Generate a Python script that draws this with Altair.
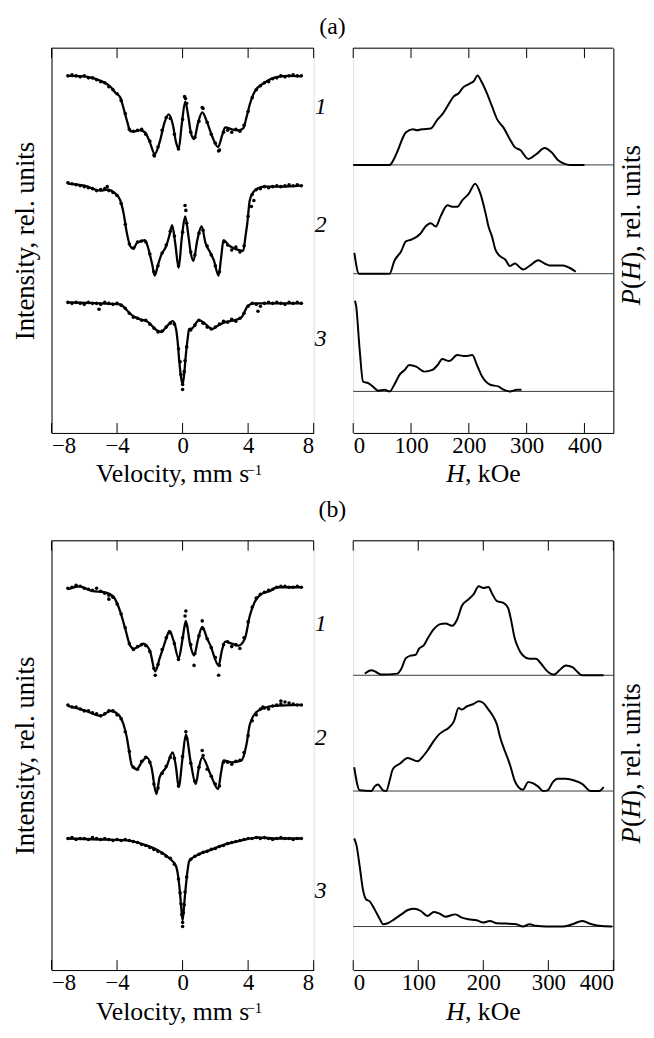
import altair as alt
import pandas as pd

SERIF = "Liberation Serif"

# ---------------- Mossbauer spectra (velocity, mm/s ; intensity, rel. units) -------------
VEL = [round(-7 + 0.25 * i, 2) for i in range(58)]  # channel velocities of the dots

A1_FIT = [(-7.0, 364), (-6.0, 363.5), (-5.8, 363), (-5.0, 359), (-4.4, 353), (-4.1, 347), (-3.8, 342),
          (-3.65, 334), (-3.5, 325), (-3.35, 316), (-3.2, 308), (-2.9, 308), (-2.6, 309), (-2.3, 307),
          (-2.0, 297), (-1.7, 285), (-1.4, 297), (-1.1, 317), (-0.85, 325), (-0.6, 315), (-0.4, 297),
          (-0.24, 290), (-0.05, 315), (0.16, 338), (0.35, 323), (0.5, 307), (0.7, 300), (0.95, 317),
          (1.2, 327), (1.5, 317), (1.8, 303), (2.17, 292), (2.4, 303), (2.6, 312), (3.0, 310), (3.4, 309),
          (3.7, 311), (3.9, 322), (4.1, 335), (4.4, 348), (5.0, 357), (5.8, 363), (6.5, 364), (7.2, 363.5)]
A2_FIT = [(-7.0, 255), (-6.0, 253), (-5.0, 248), (-4.6, 249), (-4.1, 245), (-3.8, 238), (-3.6, 225),
          (-3.4, 205), (-3.2, 192), (-3.0, 189), (-2.8, 195), (-2.5, 197), (-2.3, 198), (-2.1, 190),
          (-1.85, 173), (-1.7, 162), (-1.5, 173), (-1.3, 183), (-1.0, 192), (-0.8, 203), (-0.64, 213),
          (-0.45, 195), (-0.24, 170), (-0.05, 200), (0.16, 222), (0.35, 203), (0.5, 185), (0.66, 177),
          (0.9, 198), (1.16, 212), (1.4, 195), (1.7, 185), (1.9, 178), (2.2, 162), (2.35, 180), (2.5, 198),
          (2.8, 193), (3.1, 190), (3.4, 188), (3.7, 187), (3.85, 203), (3.95, 215), (4.1, 238), (4.4, 248),
          (5.0, 252), (6.0, 252), (7.2, 253)]
A3_FIT = [(-7.0, 135), (-5.0, 134), (-3.8, 133), (-3.4, 127), (-3.1, 122), (-2.6, 118), (-2.1, 115),
          (-1.6, 107), (-1.3, 105), (-1.0, 110), (-0.6, 116), (-0.4, 108), (-0.3, 95), (-0.2, 75),
          (-0.1, 60), (0.0, 52), (0.1, 63), (0.2, 82), (0.3, 97), (0.4, 108), (0.6, 109), (1.0, 117),
          (1.4, 113), (1.8, 108), (2.2, 112), (2.6, 115), (3.2, 117), (3.6, 120), (3.8, 126), (4.0, 132),
          (4.4, 134), (7.2, 134)]

A1_DOTS = [364, 365, 364, 363, 364, 362, 362, 360, 358, 357, 353, 350, 346, 339, 326, 310, 308, 309, 310,
           305, 298, 284, 292, 309, 322, 321, 305, 290, 320, 336, 307, 302, 318, 331, 317, 305, 296, 289,
           307, 309, 307, 310, 308, 314, 328, 342, 350, 354, 357, 358, 361, 362, 364, 363, 364, 365, 364, 364]
A2_DOTS = [256, 255, 254, 253, 252, 251, 250, 248, 249, 250, 248, 246, 243, 235, 214, 194, 190, 196, 197,
           196, 184, 166, 172, 185, 193, 207, 202, 172, 206, 215, 186, 183, 205, 208, 192, 183, 172, 166,
           196, 193, 188, 191, 186, 192, 222, 244, 249, 250, 252, 251, 252, 253, 252, 253, 254, 253, 254, 253]
A3_DOTS = [135, 134, 135, 134, 133, 135, 134, 134, 133, 135, 134, 133, 134, 132, 129, 124, 120, 119, 117,
           117, 113, 109, 105, 106, 110, 114, 113, 88, 52, 90, 107, 112, 117, 114, 110, 108, 110, 113,
           116, 115, 118, 116, 119, 124, 131, 134, 133, 131, 134, 135, 134, 135, 134, 133, 135, 134, 135, 134]
A_EXTRA = [("1", 0.12, 343), ("1", 0.18, 341), ("1", 1.2, 332), ("1", -1.72, 283), ("1", 2.2, 288),
           ("2", 0.15, 233), ("2", 0.2, 228), ("2", 4.2, 232), ("2", 4.35, 238), ("2", -4.6, 252),
           ("3", 0.0, 47), ("3", -0.1, 62), ("3", 0.1, 65), ("3", -0.15, 75), ("3", 0.15, 76),
           ("3", -5.1, 128), ("3", 4.6, 126)]

B1_FIT = [(-7.0, 389), (-6.3, 392), (-5.5, 387), (-4.8, 386), (-4.2, 381), (-3.8, 366), (-3.5, 349),
          (-3.2, 332), (-3.0, 329), (-2.7, 331), (-2.4, 334), (-2.0, 327), (-1.67, 306), (-1.4, 319),
          (-1.2, 329), (-1.0, 339), (-0.8, 347), (-0.55, 337), (-0.24, 319), (0.0, 339), (0.2, 357),
          (0.45, 334), (0.7, 322), (0.95, 339), (1.2, 351), (1.5, 339), (1.7, 332), (2.2, 312), (2.4, 327),
          (2.6, 336), (3.0, 334), (3.4, 332), (3.8, 339), (4.1, 362), (4.4, 376), (4.8, 384), (5.3, 387),
          (5.8, 391), (7.2, 391)]
B2_FIT = [(-7.0, 271), (-5.9, 266), (-5.0, 261), (-4.4, 266), (-3.9, 262), (-3.6, 252), (-3.4, 239),
          (-3.3, 229), (-3.1, 211), (-2.8, 207), (-2.5, 214), (-2.2, 219), (-1.9, 209), (-1.6, 182),
          (-1.4, 199), (-1.0, 209), (-0.6, 224), (-0.4, 209), (-0.24, 189), (0.0, 219), (0.2, 242),
          (0.5, 214), (0.8, 192), (1.0, 209), (1.2, 219), (1.7, 202), (2.17, 187), (2.35, 204), (2.5, 216),
          (3.0, 214), (3.6, 216), (3.9, 232), (4.1, 252), (4.6, 266), (5.6, 271), (7.2, 272)]
B3_FIT = [(-7.0, 137), (-5.0, 136), (-3.4, 135), (-2.4, 131), (-1.4, 124), (-0.8, 117), (-0.4, 109),
          (-0.3, 102), (-0.2, 89), (-0.1, 71), (0.0, 54), (0.1, 71), (0.2, 89), (0.3, 104), (0.4, 114),
          (1.0, 121), (1.8, 126), (2.6, 131), (3.6, 135), (4.6, 138), (5.6, 137), (7.2, 137)]

B1_DOTS = [390, 391, 393, 392, 390, 389, 388, 390, 387, 385, 383, 381, 374, 364, 350, 334, 328, 331, 333,
           332, 326, 309, 313, 328, 340, 345, 334, 318, 340, 352, 333, 324, 342, 349, 339, 330, 320, 312,
           333, 336, 331, 333, 329, 340, 356, 371, 380, 384, 386, 388, 389, 391, 392, 392, 391, 391, 392, 391]
B2_DOTS = [272, 270, 270, 268, 266, 266, 264, 263, 261, 263, 266, 266, 262, 258, 245, 225, 209, 207, 215,
           219, 214, 192, 188, 203, 210, 219, 218, 190, 220, 238, 213, 195, 209, 221, 207, 200, 192, 190,
           214, 214, 212, 215, 216, 224, 241, 256, 262, 268, 269, 268, 271, 272, 273, 275, 274, 273, 272, 272]
B3_DOTS = [137, 138, 136, 137, 137, 136, 138, 137, 136, 137, 136, 135, 136, 135, 136, 135, 134, 133, 131,
           130, 128, 126, 124, 122, 119, 117, 111, 96, 52, 98, 116, 119, 121, 123, 124, 126, 127, 129,
           130, 132, 133, 134, 135, 136, 137, 137, 138, 137, 138, 137, 136, 137, 138, 137, 137, 136, 137, 137]
B_EXTRA = [("1", 0.2, 367), ("1", 0.15, 362), ("1", 0.7, 312), ("1", 1.2, 357), ("1", 2.2, 302),
           ("1", -1.67, 302), ("1", -4.5, 379), ("2", 0.2, 245), ("2", 1.2, 226), ("2", 4.9, 270),
           ("2", 6.0, 276), ("3", 0.0, 48), ("3", -0.1, 71), ("3", 0.1, 70), ("3", -0.15, 82),
           ("3", 0.15, 83), ("3", -0.05, 60), ("3", 0.05, 62)]

# ---------------- hyperfine field distributions P(H) (H, kOe ; P, rel. units) ------------
PA1 = [(0, 274), (63, 274), (69, 278.3), (77, 288.3), (86, 301.7), (91, 306.7), (103, 310), (111, 309),
       (118, 310), (134, 310.7), (146, 320), (154, 325), (163, 333.3), (174, 343.3), (183, 346.7),
       (189, 351.7), (200, 355.7), (209, 359), (215, 364.3), (222, 358), (231, 346.7), (240, 333.3),
       (249, 320), (260, 311.7), (271, 300), (280, 291.7), (289, 289), (303, 280), (317, 285), (331, 291),
       (343, 286.7), (354, 279), (366, 275), (374, 274), (400, 274)]
PA2 = [(2, 185), (10, 164), (63, 164), (71, 176.7), (83, 186.7), (91, 196.7), (100, 198.3), (117, 205),
       (125, 211.7), (134, 215), (143, 211.7), (151, 221.7), (163, 233.3), (171, 231.7), (180, 231.7),
       (189, 238.3), (200, 245), (211, 255), (220, 245), (229, 225), (234, 211.7), (240, 201.7),
       (246, 188.3), (254, 181.7), (263, 178.3), (271, 171.7), (280, 174.3), (289, 170), (294, 168.3),
       (306, 172.3), (320, 177.7), (331, 174.3), (340, 172.3), (363, 172.3), (374, 170), (385, 166)]
PA3 = [(3, 136.7), (5, 131.7), (11, 88.3), (17, 55), (26, 53.3), (34, 50), (43, 45.7), (54, 46.7),
       (63, 45), (71, 51.7), (80, 61.7), (89, 66.7), (97, 71.7), (109, 70), (123, 65), (137, 66.7),
       (146, 71.7), (154, 77.7), (166, 75.7), (180, 81.7), (194, 80.7), (206, 81.7), (214, 71.7),
       (223, 60), (237, 51.7), (251, 50), (260, 46.7), (271, 45), (283, 46.7), (291, 46.7)]
PB1 = [(18, 303.7), (28, 307), (35, 305.3), (43, 302.7), (68, 303.7), (74, 308.7), (81, 319.3), (89, 322),
       (96, 322.7), (101, 328.7), (109, 332.7), (114, 338.7), (124, 348.7), (134, 353.7), (142, 354.3),
       (152, 352), (160, 358.7), (167, 372), (177, 378.7), (185, 383.7), (193, 392), (200, 390.3),
       (208, 391.3), (213, 385.3), (221, 377), (231, 375.3), (238, 370.3), (243, 357), (248, 340.3),
       (254, 329.3), (261, 322), (271, 318.7), (281, 318.7), (289, 313.7), (297, 307), (309, 302.7),
       (317, 307), (327, 312), (337, 310.3), (345, 305.3), (352, 302), (385, 302)]
PB2 = [(1.5, 209), (10, 185.7), (28, 185), (33, 189.7), (38, 191.7), (46, 185.7), (51, 185), (56, 195.7),
       (61, 207.3), (71, 212.3), (84, 218.3), (99, 215), (106, 219), (114, 225.7), (124, 235.7),
       (132, 242.3), (139, 245.7), (147, 249), (155, 255.7), (162, 269), (167, 267.3), (175, 270.7),
       (185, 273), (193, 275.7), (200, 274), (208, 267.3), (215, 260.7), (221, 252.3), (226, 239),
       (233, 225.7), (238, 217.3), (243, 207.3), (248, 195.7), (254, 189), (261, 186.3), (269, 194),
       (276, 193), (284, 189.7), (292, 185), (299, 185.7), (307, 194), (314, 197.3), (327, 197.3),
       (340, 195.7), (352, 192.3), (365, 185), (378, 185), (385, 189)]
PB3 = [(1.5, 137), (5, 130.3), (10, 108.7), (15, 85.3), (20, 75.3), (25, 73.7), (33, 65.3), (41, 55.3),
       (46, 50.3), (53, 51.3), (63, 55.3), (74, 60.3), (84, 64.7), (94, 66), (104, 63.7), (114, 58.7),
       (124, 62.7), (132, 61.3), (142, 58), (157, 60.3), (167, 57), (177, 55.3), (190, 54.3), (200, 52),
       (210, 53.7), (221, 51.3), (236, 51), (251, 50.3), (261, 48), (271, 50.3), (281, 48.7), (297, 48),
       (322, 48), (337, 50.3), (352, 53.7), (362, 51.3), (378, 48.7), (398, 48)]

BASE_A = [274, 164, 45]
BASE_B = [302, 185, 48]
CURVE_IDS = ["1", "2", "3"]
LABEL_Y_A = [332, 213, 98]
LABEL_Y_B = [354, 239, 84]

V_TICKS = [-8, -4, 0, 4, 8]
H_TICKS_A = [0, 100, 200, 300, 400]
H_TICKS_B = [0, 100, 200, 300, 400]

# layout (pixels) and value ranges shown on the hidden intensity axes
LEFT_W, RIGHT_W = 265, 263
PX_A, PX_B = 389, 434
DOM_A, DOM_B = [3, 392], [4, 438]
TICK_LEN = 10
LBL = 23      # tick-label font size
TTL = 26      # axis-title font size
TITLE_DY = 50  # baseline of x-axis titles below the axis

one = pd.DataFrame({"k": [0]})


def fit_frame(curves):
    rows = []
    for cid, pts in zip(CURVE_IDS, curves):
        rows += [{"curve": cid, "v": v, "I": i} for v, i in pts]
    return pd.DataFrame(rows)


def dot_frame(dot_lists, extra):
    rows = []
    for cid, vals in zip(CURVE_IDS, dot_lists):
        rows += [{"curve": cid, "v": v, "I": i} for v, i in zip(VEL, vals)]
    rows += [{"curve": c, "v": v, "I": i} for c, v, i in extra]
    return pd.DataFrame(rows)


def ph_frame(curves):
    rows = []
    for cid, pts in zip(CURVE_IDS, curves):
        rows += [{"curve": cid, "h": h, "P": p} for h, p in pts]
    return pd.DataFrame(rows)


def mk_axis(**kw):
    base = dict(grid=False, ticks=False, domainColor="black", domainWidth=1,
                labelFont=SERIF, titleFont=SERIF, labelColor="black", titleColor="black",
                titleFontWeight="normal", labelFontSize=LBL, titleFontSize=TTL + 1, labelPadding=2)
    base.update(kw)
    return alt.Axis(**base)


def txt(text, x, y, size=TTL, style="normal", align="center", baseline="alphabetic", angle=0):
    kw = dict(text=text, font=SERIF, fontSize=size, fontStyle=style, color="black",
              align=align, baseline=baseline)
    if angle:
        kw["angle"] = angle
    return alt.Chart(one).mark_text(**kw).encode(x=alt.value(x), y=alt.value(y))


def left_panel(fit_df, dot_df, px_h, dom, label_y, panel_text, panel_y):
    xs = alt.Scale(domain=[-8, 8], nice=False, zero=False)
    ys = alt.Scale(domain=dom, nice=False, zero=False)
    X = alt.X("v:Q", scale=xs, axis=mk_axis(values=V_TICKS, title=None))
    Y = alt.Y("I:Q", scale=ys, axis=mk_axis(labels=False, title="Intensity, rel. units", titlePadding=12))
    line = alt.Chart(fit_df).mark_line(color="black", strokeWidth=2.3, interpolate="monotone").encode(
        x=X, y=Y, detail="curve:N")
    dots = alt.Chart(dot_df).mark_circle(size=13, color="black", opacity=1).encode(x=X, y=Y)
    tdf = pd.DataFrame({"v": V_TICKS})
    tb = alt.Chart(tdf).mark_rule(color="black").encode(x=X, y=alt.value(px_h), y2=alt.value(px_h - TICK_LEN))
    tt = alt.Chart(tdf).mark_rule(color="black").encode(x=X, y=alt.value(0), y2=alt.value(TICK_LEN))
    top = alt.Chart(one).mark_rule(color="black").encode(x=alt.value(0), x2=alt.value(LEFT_W), y=alt.value(0))
    ldf = pd.DataFrame({"lab": CURVE_IDS, "I": label_y})
    labs = alt.Chart(ldf).mark_text(font=SERIF, fontStyle="italic", fontSize=24, color="black",
                                    baseline="middle").encode(x=alt.value(LEFT_W + 7), y=Y, text="lab:N")
    ptxt = txt(panel_text, LEFT_W + 19, panel_y, size=24, baseline="middle")
    # axis title "Velocity, mm s^-1" with a true superscript
    t_main = txt("Velocity, mm s", 45, px_h + TITLE_DY, align="left")
    t_sup = txt("\u22121", 197, px_h + TITLE_DY - 7, size=15, align="left")
    return alt.layer(line, dots, tb, tt, top, labs, ptxt, t_main, t_sup).properties(width=LEFT_W, height=px_h)


def right_panel(ph_df, px_h, dom, hmax, hticks, baselines, title_center):
    xs = alt.Scale(domain=[0, hmax], nice=False, zero=False)
    ys = alt.Scale(domain=dom, nice=False, zero=False)
    X = alt.X("h:Q", scale=xs, axis=mk_axis(values=hticks, title=None))
    Y = alt.Y("P:Q", scale=ys, axis=mk_axis(labels=False, orient="right", title=None))
    bdf = pd.DataFrame({"P": baselines})
    base = alt.Chart(bdf).mark_rule(color="#3a3a3a", strokeWidth=1).encode(
        y=Y, x=alt.value(0), x2=alt.value(RIGHT_W))
    line = alt.Chart(ph_df).mark_line(color="black", strokeWidth=2.0, interpolate="monotone").encode(
        x=X, y=Y, detail="curve:N")
    tdf = pd.DataFrame({"h": hticks})
    tb = alt.Chart(tdf).mark_rule(color="black").encode(x=X, y=alt.value(px_h), y2=alt.value(px_h - TICK_LEN))
    tt = alt.Chart(tdf).mark_rule(color="black").encode(x=X, y=alt.value(0), y2=alt.value(TICK_LEN))
    top = alt.Chart(one).mark_rule(color="black").encode(x=alt.value(0), x2=alt.value(RIGHT_W), y=alt.value(0))
    # axis title "H, kOe" with italic H
    h1 = txt("H", 94, px_h + TITLE_DY, style="italic", align="left")
    h2 = txt(", kOe", 113, px_h + TITLE_DY, align="left")
    # vertical title "P(H), rel. units" with italic P and H (reads bottom to top)
    fs = 27
    y0 = title_center + 81
    xt = RIGHT_W + 27
    p1 = txt("P", xt, y0, size=fs, style="italic", align="left", angle=270)
    p2 = txt("(", xt, y0 - 16.5, size=fs, align="left", angle=270)
    p3 = txt("H", xt, y0 - 25.5, size=fs, style="italic", align="left", angle=270)
    p4 = txt("), rel. units", xt, y0 - 45.0, size=fs, align="left", angle=270)
    return alt.layer(base, line, tb, tt, top, h1, h2, p1, p2, p3, p4).properties(width=RIGHT_W, height=px_h)


left_a = left_panel(fit_frame([A1_FIT, A2_FIT, A3_FIT]), dot_frame([A1_DOTS, A2_DOTS, A3_DOTS], A_EXTRA),
                    PX_A, DOM_A, LABEL_Y_A, "(a)", -21)
right_a = right_panel(ph_frame([PA1, PA2, PA3]), PX_A, DOM_A, 450, H_TICKS_A, BASE_A, 179)
left_b = left_panel(fit_frame([B1_FIT, B2_FIT, B3_FIT]), dot_frame([B1_DOTS, B2_DOTS, B3_DOTS], B_EXTRA),
                    PX_B, DOM_B, LABEL_Y_B, "(b)", -31)
right_b = right_panel(ph_frame([PB1, PB2, PB3]), PX_B, DOM_B, 400, H_TICKS_B, BASE_B, 225)

chart = alt.concat(left_a, right_a, left_b, right_b, columns=2, bounds="flush",
                   spacing={"row": 109, "column": 40}).properties(
    padding={"left": 3, "top": 1, "right": 0, "bottom": 0}
).configure_view(stroke=None).configure(font=SERIF)

chart.save("out.html", embed_options={"renderer": "svg", "actions": False})
